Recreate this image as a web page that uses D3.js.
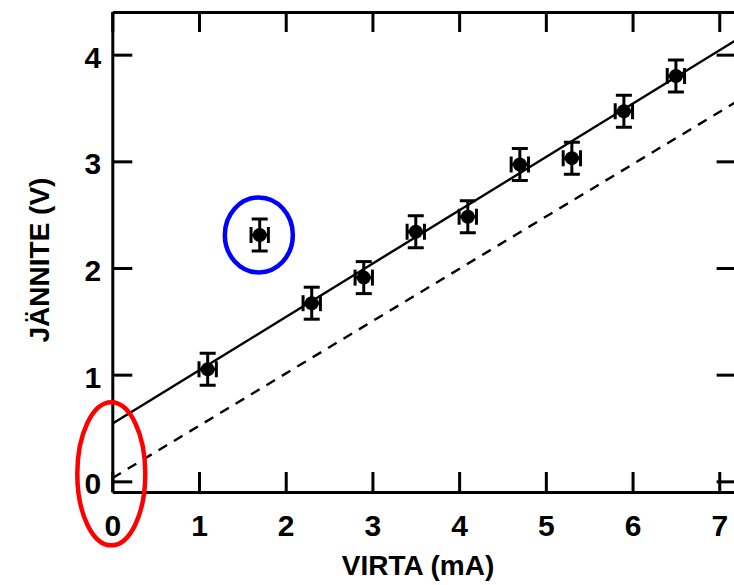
<!DOCTYPE html>
<html>
<head>
<meta charset="utf-8">
<script src="https://cdn.jsdelivr.net/npm/d3@7"></script>
<style>
  html, body { margin: 0; padding: 0; background: #fff; }
  svg { display: block; }
  text { font-family: "Liberation Sans", Arial, sans-serif; font-weight: bold; }
</style>
</head>
<body>
<svg id="chart" width="734" height="585"></svg>
<script>
// ---- data ----
const currents = [1.1, 1.7, 2.3, 2.9, 3.5, 4.1, 4.7, 5.3, 5.9, 6.5];   // mA
const voltages = [1.05, 2.31, 1.67, 1.91, 2.34, 2.48, 2.97, 3.03, 3.47, 3.80]; // V
const currentErr = 0.1;
const voltageErr = 0.15;
const fitLineX = [0, 7.2];
const fitLineY = [0.54, 4.14];
const refLineX = [0, 7.2];
const refLineY = [0.03, 3.56];
const xTicks = [0, 1, 2, 3, 4, 5, 6, 7];
const yTicks = [0, 1, 2, 3, 4];
const xLabel = "VIRTA (mA)";
const yLabel = "JÄNNITE (V)";
const xDomain = [0, 7.2];
const yDomain = [-0.1, 4.4];
// annotation ellipse centres (data coords)
const redMark = [0, 0.07];
const blueMark = [1.69, 2.31];

// ---- layout ----
const svg = d3.select("#chart");
const mLeft = 112.3, mRight = 736.6, mTop = 12, mBottom = 492;
const x = d3.scaleLinear().domain(xDomain).range([mLeft, mRight]);
const y = d3.scaleLinear().domain(yDomain).range([mBottom, mTop]);

svg.append("defs").append("clipPath").attr("id", "plotclip")
  .append("rect").attr("x", mLeft).attr("y", mTop)
  .attr("width", mRight - mLeft).attr("height", mBottom - mTop);

const plot = svg.append("g").attr("clip-path", "url(#plotclip)");

// lines
const line = d3.line().x(d => x(d[0])).y(d => y(d[1]));
plot.append("path")
  .datum(d3.zip(refLineX, refLineY))
  .attr("d", line).attr("fill", "none").attr("stroke", "#000")
  .attr("stroke-width", 2.4).attr("stroke-dasharray", "10,8");
plot.append("path")
  .datum(d3.zip(fitLineX, fitLineY))
  .attr("d", line).attr("fill", "none").attr("stroke", "#000")
  .attr("stroke-width", 2.4);

// error bars + points
const pts = d3.zip(currents, voltages);
const cap = 8;
const eb = plot.append("g").attr("stroke", "#000").attr("stroke-width", 3).attr("fill", "none");
pts.forEach(([cx, cy]) => {
  const px = x(cx), py = y(cy);
  const y1 = y(cy + voltageErr), y2 = y(cy - voltageErr);
  const x1 = x(cx - currentErr), x2 = x(cx + currentErr);
  eb.append("line").attr("x1", px).attr("x2", px).attr("y1", y1).attr("y2", y2);
  eb.append("line").attr("x1", px - cap).attr("x2", px + cap).attr("y1", y1).attr("y2", y1);
  eb.append("line").attr("x1", px - cap).attr("x2", px + cap).attr("y1", y2).attr("y2", y2);
  eb.append("line").attr("x1", x1).attr("x2", x2).attr("y1", py).attr("y2", py);
  eb.append("line").attr("x1", x1).attr("x2", x1).attr("y1", py - cap).attr("y2", py + cap);
  eb.append("line").attr("x1", x2).attr("x2", x2).attr("y1", py - cap).attr("y2", py + cap);
});
plot.append("g").selectAll("circle").data(pts).join("circle")
  .attr("cx", d => x(d[0])).attr("cy", d => y(d[1])).attr("r", 7).attr("fill", "#000");

// axes
function styleAxis(g) {
  g.selectAll("path.domain").attr("stroke", "#000").attr("stroke-width", 3);
  g.selectAll(".tick line").attr("stroke", "#000").attr("stroke-width", 3);
  g.selectAll(".tick text").attr("fill", "#000")
    .style("font-size", "30px").style("font-family", '"Liberation Sans", Arial, sans-serif')
    .style("font-weight", "bold");
}
const gx = svg.append("g").attr("transform", `translate(0,${mBottom})`)
  .call(d3.axisBottom(x).tickValues(xTicks).tickFormat(d3.format("d"))
    .tickSize(-20).tickSizeOuter(0).tickPadding(23));
styleAxis(gx);
const gxt = svg.append("g").attr("transform", `translate(0,${mTop})`)
  .call(d3.axisTop(x).tickValues(xTicks).tickFormat("").tickSize(-20).tickSizeOuter(0));
styleAxis(gxt);
const gy = svg.append("g").attr("transform", `translate(${mLeft},0)`)
  .call(d3.axisLeft(y).tickValues(yTicks).tickFormat(d3.format("d"))
    .tickSize(-20).tickSizeOuter(0).tickPadding(11));
styleAxis(gy);
gy.selectAll(".tick text").attr("dy", "0.42em");
const gyr = svg.append("g").attr("transform", `translate(${mRight},0)`)
  .call(d3.axisRight(y).tickValues(yTicks).tickFormat("").tickSize(-20).tickSizeOuter(0));
styleAxis(gyr);

// axis titles
svg.append("text").attr("x", 418).attr("y", 575).attr("text-anchor", "middle")
  .style("font-size", "28px").attr("fill", "#000").text(xLabel);
svg.append("text").attr("transform", "translate(49,260) rotate(-90)")
  .attr("text-anchor", "middle").style("font-size", "28px").attr("fill", "#000").text(yLabel);

// annotation ellipses
svg.append("ellipse").attr("cx", x(redMark[0]) - 1).attr("cy", y(redMark[1]))
  .attr("rx", 34).attr("ry", 71.5).attr("fill", "none").attr("stroke", "#ff0000").attr("stroke-width", 4.5);
svg.append("ellipse").attr("cx", x(blueMark[0])).attr("cy", y(blueMark[1]))
  .attr("rx", 34).attr("ry", 37.5).attr("fill", "none").attr("stroke", "#0000ff").attr("stroke-width", 4.5);
</script>
</body>
</html>
